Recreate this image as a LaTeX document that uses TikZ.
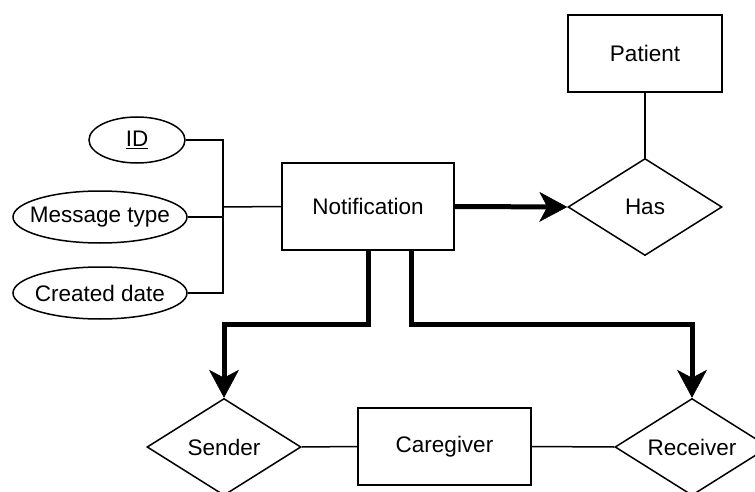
\documentclass[tikz,border=0pt]{standalone}
\usepackage{fontspec}
\setmainfont{Liberation Sans}
\usetikzlibrary{shapes.geometric,arrows.meta}
\begin{document}
\begin{tikzpicture}[x=1pt,y=-1pt,
  every node/.style={font=\fontsize{22.5}{27}\selectfont, inner sep=0pt},
  entity/.style={draw, line width=1.5pt, rectangle, minimum width=154pt, minimum height=77pt},
  rel/.style={draw, line width=1.5pt, diamond, aspect=1.63, minimum width=154pt, minimum height=97pt},
  attr/.style={draw, line width=1.5pt, ellipse, inner xsep=-9pt, inner ysep=0pt, minimum height=52pt},
  link/.style={line width=1.5pt},
  flow/.style={line width=5pt, -{Stealth[length=28pt, width=30pt, inset=8pt, line width=0.5pt]}}]

\useasboundingbox (0,0) rectangle (755,492);

% attributes
\node[attr, minimum width=96pt, minimum height=46pt] (id) at (137,140) {\underline{ID}};
\node[attr, minimum width=174pt] (mt) at (100,217) {Message type};
\node[attr, minimum width=174pt] (cd) at (100,293) {Created date};

% entities and relationships
\node[entity, minimum width=172pt, minimum height=87pt] (notif) at (368,206.5) {Notification};
\node[entity] (patient) at (645,53.5) {Patient};
\node[rel] (has) at (645,207) {Has};
\node[rel] (sender) at (224,447) {Sender};
\node[entity, minimum width=173pt] (caregiver) at (444.5,446.5) {Caregiver};
\node[rel] (receiver) at (692,447) {Receiver};

% attribute bracket
\coordinate (jn) at (223,207);
\draw[link] (id.east) -| (jn);
\draw[link] (cd.east) -| (jn);
\draw[link] (mt.east) -- (mt.east -| jn);
\draw[link] (jn) -- (notif.west);

% plain relationship links
\draw[link] (patient.south) -- (has.north);
\draw[link] (sender.east) -- (caregiver.west);
\draw[link] (caregiver.east) -- (receiver.west);

% directed links
\coordinate (busL) at (368,324);
\coordinate (nr) at ([xshift=43pt]notif.south);
\draw[flow] (notif.east) -- (has.west);
\draw[flow] (notif.south) -- (busL) -| (sender.north);
\draw[flow] (nr) -- (nr |- busL) -| (receiver.north);
\end{tikzpicture}
\end{document}
